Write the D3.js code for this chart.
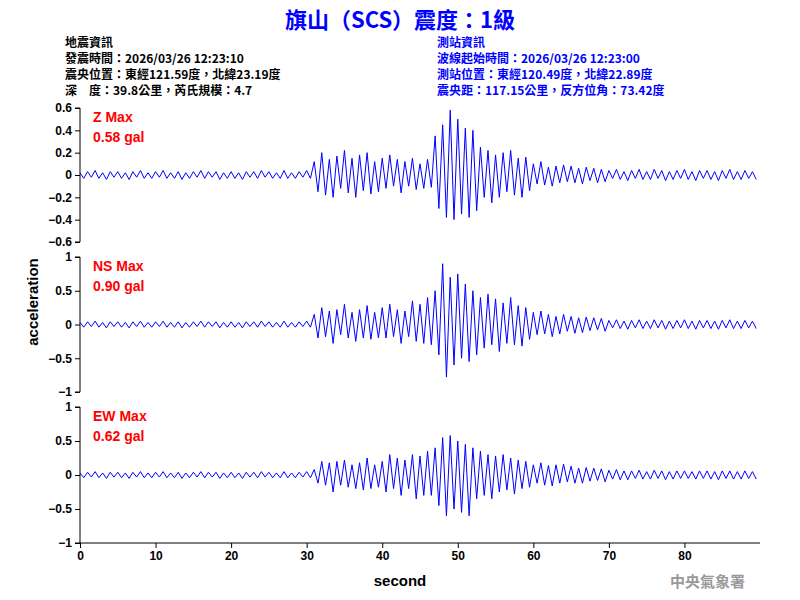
<!DOCTYPE html>
<html><head><meta charset="utf-8">
<script src="https://cdn.jsdelivr.net/npm/d3@7"></script>
<style>body{margin:0;background:#fff}svg{font-family:"Liberation Sans",Arial,sans-serif}</style>
</head><body><svg id="c" width="800" height="600"></svg>
<script>
const dt = 0.5;
const zVals = [.02,-.03,.03,-.02,.04,-.03,.02,-.04,.03,-.02,.03,-.03,.02,-.04,.03,-.02,.04,-.03,.02,-.03,
.03,-.02,.04,-.03,.02,-.03,.03,-.04,.02,-.03,.03,-.02,.04,-.03,.03,-.02,.03,-.04,.02,-.03,
.03,-.03,.02,-.04,.03,-.02,.03,-.03,.04,-.02,.03,-.03,.02,-.03,.04,-.03,.02,-.03,.03,-.02,.04,-.03,
.12,-.15,.2,-.18,.14,-.2,.17,-.12,.22,-.16,.15,-.2,.18,-.14,.2,-.17,.12,-.15,
.15,-.12,.18,-.1,.14,-.16,.12,-.1,.15,-.13,.1,-.12,.14,-.11,
.35,-.3,.45,-.38,.58,-.4,.5,-.35,.42,-.38,.4,-.32,
.25,-.2,.22,-.25,.18,-.2,.2,-.15,.22,-.18,.15,-.2,.16,-.14,
.1,-.08,.12,-.09,.07,-.1,.08,-.07,.09,-.06,.08,-.07,.06,-.08,.07,-.05,.06,-.07,.05,-.06,
.04,-.03,.05,-.04,.03,-.05,.04,-.03,.05,-.04,.03,-.04,.05,-.03,.04,-.05,.03,-.04,.04,-.03,
.05,-.04,.03,-.05,.04,-.03,.04,-.04,.03,-.05,.04,-.03,.05,-.04,.03,-.04,.04,-.03,.03,-.04];
const nsVals = [.03,-.04,.04,-.03,.05,-.04,.03,-.05,.04,-.03,.04,-.04,.03,-.05,.04,-.03,.05,-.04,.03,-.04,
.04,-.03,.05,-.04,.03,-.04,.04,-.05,.03,-.04,.04,-.03,.05,-.04,.04,-.03,.04,-.05,.03,-.04,
.04,-.04,.03,-.05,.04,-.03,.04,-.04,.05,-.03,.04,-.04,.03,-.04,.05,-.04,.03,-.04,.04,-.03,.05,-.04,
.15,-.2,.25,-.18,.2,-.28,.22,-.15,.3,-.2,.18,-.25,.22,-.2,.28,-.22,.18,-.2,
.25,-.2,.3,-.18,.22,-.28,.2,-.18,.35,-.25,.3,-.28,.4,-.3,
.5,-.45,.9,-.78,.7,-.6,.75,-.5,.6,-.55,.5,-.45,
.4,-.35,.45,-.3,.38,-.4,.32,-.28,.4,-.3,.28,-.32,.25,-.22,
.18,-.15,.2,-.14,.15,-.18,.12,-.14,.15,-.1,.12,-.13,.1,-.12,.11,-.09,.1,-.08,.09,-.1,
.06,-.05,.07,-.06,.05,-.07,.06,-.05,.07,-.06,.05,-.06,.07,-.05,.06,-.07,.05,-.06,.06,-.05,
.07,-.06,.05,-.07,.06,-.05,.06,-.06,.05,-.07,.06,-.05,.07,-.06,.05,-.06,.06,-.05,.05,-.06];
const ewVals = [.03,-.04,.04,-.03,.05,-.04,.03,-.05,.04,-.03,.04,-.04,.03,-.05,.04,-.03,.05,-.04,.03,-.04,
.04,-.03,.05,-.04,.03,-.04,.04,-.05,.03,-.04,.04,-.03,.05,-.04,.04,-.03,.04,-.05,.03,-.04,
.04,-.04,.03,-.05,.04,-.03,.04,-.04,.05,-.03,.04,-.04,.03,-.04,.05,-.04,.03,-.04,.04,-.03,.05,-.04,
.08,-.12,.2,-.15,.18,-.25,.2,-.15,.22,-.18,.15,-.2,.18,-.22,.25,-.2,.15,-.18,
.2,-.25,.3,-.2,.25,-.3,.22,-.2,.3,-.35,.28,-.3,.35,-.3,
.4,-.45,.55,-.6,.58,-.5,.5,-.55,.45,-.6,.4,-.35,
.35,-.3,.3,-.35,.28,-.25,.3,-.22,.25,-.28,.22,-.2,.2,-.18,
.15,-.12,.18,-.15,.14,-.16,.15,-.12,.16,-.1,.13,-.12,.1,-.12,.11,-.09,.1,-.08,.09,-.1,
.07,-.06,.08,-.07,.06,-.07,.06,-.05,.07,-.06,.05,-.06,.07,-.05,.06,-.07,.05,-.06,.06,-.05,
.06,-.05,.05,-.06,.06,-.05,.06,-.06,.05,-.07,.06,-.05,.06,-.06,.05,-.06,.06,-.05,.05,-.06];
const xTicks = [0,10,20,30,40,50,60,70,80];
const zTicks = [0.6,0.4,0.2,0,-0.2,-0.4,-0.6];
const hTicks = [1,0.5,0,-0.5,-1];
const panels = [
 {name:"Z Max", peak:"0.58 gal", vals:zVals, dom:[-0.6,0.6], ticks:zTicks, top:108, bot:242},
 {name:"NS Max", peak:"0.90 gal", vals:nsVals, dom:[-1,1], ticks:hTicks, top:257, bot:392},
 {name:"EW Max", peak:"0.62 gal", vals:ewVals, dom:[-1,1], ticks:hTicks, top:407, bot:543}
];
const svg = d3.select("#c");
const x = d3.scaleLinear().domain([0,90]).range([80,760]);
panels.forEach(p=>{
  const y = d3.scaleLinear().domain(p.dom).range([p.bot,p.top]);
  svg.append("path").datum(p.vals).attr("fill","none").attr("stroke","#0000ff").attr("stroke-width",1)
    .attr("d", d3.line().x((d,i)=>x(i*dt)).y(d=>y(d)));
  const ax = svg.append("g").attr("transform","translate(80,0)")
    .call(d3.axisLeft(y).tickValues(p.ticks).tickSize(5).tickFormat(d=>d3.format("")(+d.toFixed(1))));
  ax.selectAll("text").attr("font-size",12).attr("font-weight","bold").attr("fill","#000").attr("font-family","Liberation Sans, Arial");
  ax.select(".domain").attr("d",`M-5,${p.top}H0V${p.bot}H-5`);
  svg.append("text").attr("x",93).attr("y",p.top+14).attr("fill","#f00").attr("font-size",14).attr("font-weight","bold").text(p.name);
  svg.append("text").attr("x",93).attr("y",p.top+34).attr("fill","#f00").attr("font-size",14).attr("font-weight","bold").text(p.peak);
});
const bx = svg.append("g").attr("transform","translate(0,543)")
  .call(d3.axisBottom(x).tickValues(xTicks).tickSize(5));
bx.select(".domain").attr("d","M80,0H760");
bx.selectAll("text").attr("font-size",12).attr("font-weight","bold").attr("fill","#000");
svg.append("text").attr("x",400).attr("y",586).attr("text-anchor","middle").attr("font-size",15).attr("font-weight","bold").text("second");
svg.append("text").attr("transform","translate(38,302) rotate(-90)").attr("text-anchor","middle").attr("font-size",15).attr("font-weight","bold").text("acceleration");
svg.append("text").attr("x",400).attr("y",28).attr("text-anchor","middle").attr("fill","#0000ff").attr("font-size",22).attr("font-weight","bold")
  .attr("font-family","Noto Sans CJK TC").text("旗山（SCS）震度：1級");
const leftInfo = ["地震資訊","發震時間：2026/03/26 12:23:10","震央位置：東經121.59度，北緯23.19度","深　度：39.8公里，芮氏規模：4.7"];
const rightInfo = ["測站資訊","波線起始時間：2026/03/26 12:23:00","測站位置：東經120.49度，北緯22.89度","震央距：117.15公里，反方位角：73.42度"];
leftInfo.forEach((t,i)=>svg.append("text").attr("x",65).attr("y",47+i*16).attr("font-size",12).attr("font-weight","bold").attr("font-family","Noto Sans CJK TC").text(t));
rightInfo.forEach((t,i)=>svg.append("text").attr("x",437).attr("y",47+i*16).attr("font-size",12).attr("font-weight","bold").attr("fill","#0000ff").attr("font-family","Noto Sans CJK TC").text(t));
svg.append("text").attr("x",745).attr("y",587).attr("text-anchor","end").attr("font-size",15).attr("font-weight","bold").attr("fill","#999").attr("font-family","Noto Sans CJK TC").text("中央氣象署");
</script></body></html>
